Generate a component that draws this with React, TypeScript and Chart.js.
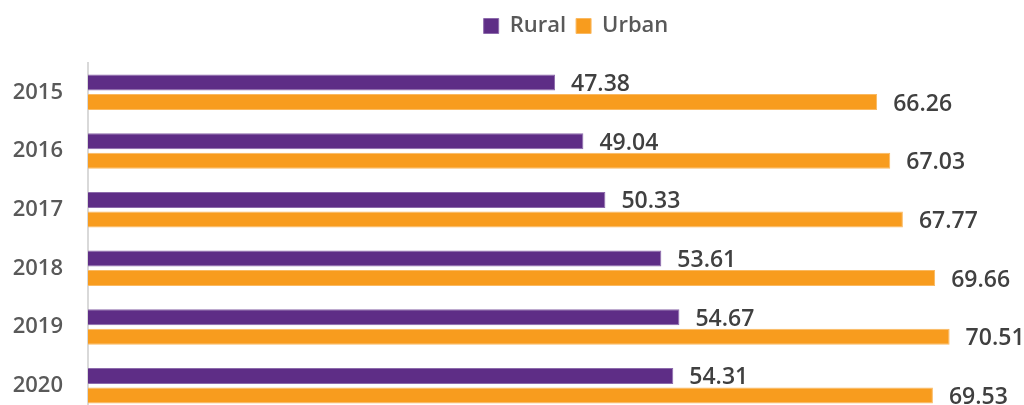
import React, { useEffect, useRef } from "react";
import { Chart, registerables } from "chart.js";

Chart.register(...registerables);

const years = ["2015", "2016", "2017", "2018", "2019", "2020"];
const rural = [47.38, 49.04, 50.33, 53.61, 54.67, 54.31];
const urban = [66.26, 67.03, 67.77, 69.66, 70.51, 69.53];
const seriesNames = ["Rural", "Urban"];
const seriesColors = ["#5E2D86", "#F89C1E"];
const seriesBorders = ["#8C6AAB", "#FAB961"];

const FONT = "'Open Sans', 'Noto Sans', sans-serif";

const valueLabels = {
  id: "valueLabels",
  afterDatasetsDraw(chart: any) {
    const ctx = chart.ctx;
    ctx.save();
    ctx.font = `600 23px ${FONT}`;
    ctx.fillStyle = "#404040";
    ctx.textAlign = "left";
    ctx.textBaseline = "middle";
    chart.data.datasets.forEach((ds: any, di: number) => {
      const meta = chart.getDatasetMeta(di);
      meta.data.forEach((el: any, i: number) => {
        ctx.fillText(ds.data[i].toFixed(2), el.x + 16, el.y + 2);
      });
    });
    ctx.restore();
  },
};

const legendTweak = {
  id: "legendTweak",
  beforeInit(chart: any) {
    const lg = chart.legend;
    if (lg) {
      const orig = lg.fit;
      lg.fit = function () {
        orig.call(this);
        this.height = 58;
      };
    }
  },
  afterLayout(chart: any) {
    const lg = chart.legend;
    if (lg) {
      lg.left += 64;
      lg.right += 64;
    }
  },
};

export default function App() {
  const ref = useRef<HTMLCanvasElement | null>(null);
  useEffect(() => {
    if (!ref.current) return;
    const chart = new Chart(ref.current, {
      type: "bar",
      data: {
        labels: years,
        datasets: [
          {
            label: seriesNames[0],
            data: rural,
            backgroundColor: seriesColors[0],
            borderColor: seriesBorders[0],
            borderWidth: 1,
            categoryPercentage: 0.665,
            barPercentage: 0.82,
          },
          {
            label: seriesNames[1],
            data: urban,
            backgroundColor: seriesColors[1],
            borderColor: seriesBorders[1],
            borderWidth: 1,
            categoryPercentage: 0.665,
            barPercentage: 0.82,
          },
        ],
      },
      options: {
        indexAxis: "y",
        animation: false,
        responsive: false,
        maintainAspectRatio: false,
        devicePixelRatio: 1,
        layout: { padding: { top: 5, left: 0, right: 0, bottom: 0 } },
        plugins: {
          legend: {
            position: "top",
            labels: {
              boxWidth: 15,
              boxHeight: 15,
              padding: 10,
              color: "#595959",
              font: { family: FONT, size: 22, weight: "600" },
            },
          },
          tooltip: { enabled: false },
        },
        scales: {
          x: {
            type: "linear",
            min: 20,
            max: 74.87,
            display: false,
          },
          y: {
            grid: { display: false, drawTicks: false },
            border: { display: true, color: "#D9D9D9", width: 2 },
            ticks: {
              color: "#595959",
              padding: 25,
              font: { family: FONT, size: 22, weight: "600" },
            },
            afterFit(scale: any) {
              scale.width = 88;
              scale.paddingTop = 0;
              scale.paddingBottom = 0;
            },
          },
        },
      },
      plugins: [valueLabels, legendTweak],
    } as any);
    return () => chart.destroy();
  }, []);
  return (
    <div style={{ position: "fixed", top: 0, left: 0, width: 1024, height: 415 }}>
      <canvas ref={ref} width={1024} height={415} style={{ display: "block", width: 1024, height: 415 }} />
    </div>
  );
}
